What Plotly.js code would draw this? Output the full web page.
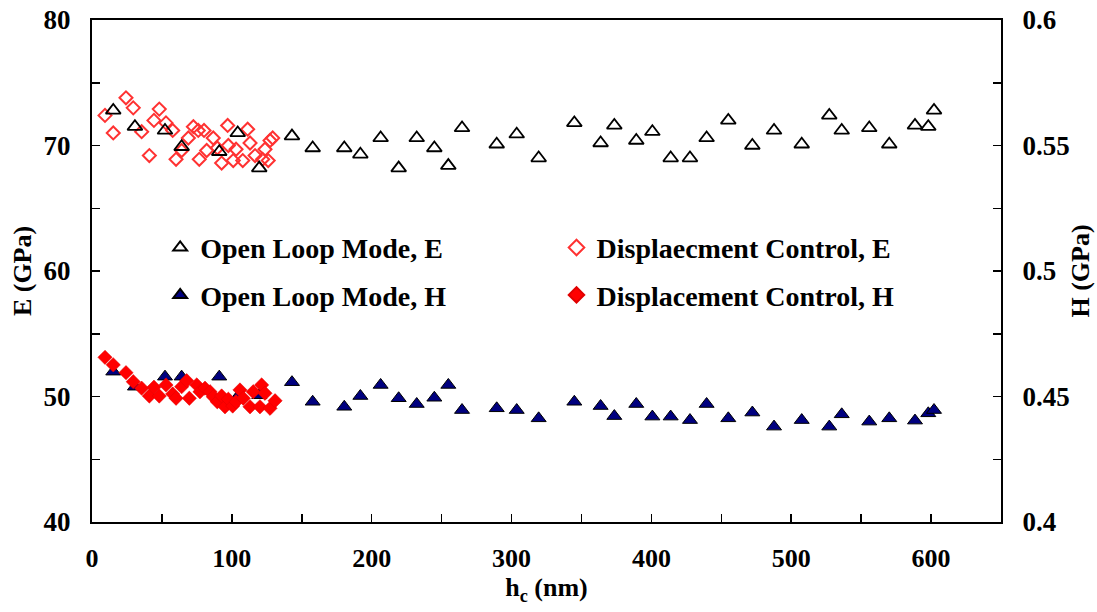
<!DOCTYPE html>
<html>
<head>
<meta charset="utf-8">
<script src="https://cdn.plot.ly/plotly-3.0.1.min.js"></script>
<style>html,body{margin:0;padding:0;background:#fff;}#chart{width:1097px;height:612px;}</style>
</head>
<body>
<div id="chart"></div>
<script>
// Open loop mode: depth (nm), E (GPa), H (GPa)
const olX = [15.2, 30.7, 52.2, 64.1, 91.0, 104.2, 119.6, 143.0, 157.8, 180.4, 191.9, 206.4, 219.3, 232.2, 244.8, 254.8, 264.6, 289.4, 303.7, 319.4, 344.9, 363.7, 373.5, 389.2, 400.7, 413.8, 427.6, 439.5, 455.0, 472.2, 487.7, 507.5, 527.2, 536.1, 555.8, 570.1, 588.5, 598.0, 602.1];
const olE = [72.8, 71.5, 71.2, 69.9, 69.5, 71.0, 68.2, 70.75, 69.8, 69.8, 69.3, 70.6, 68.2, 70.6, 69.8, 68.4, 71.4, 70.1, 70.9, 69.0, 71.8, 70.2, 71.6, 70.4, 71.1, 69.0, 69.0, 70.6, 72.0, 70.0, 71.2, 70.1, 72.4, 71.2, 71.4, 70.1, 71.6, 71.5, 72.8];
const olH = [0.4599, 0.4539, 0.4579, 0.4579, 0.4579, 0.4500, 0.4505, 0.4557, 0.4479, 0.4459, 0.4502, 0.4546, 0.4493, 0.4470, 0.4495, 0.4546, 0.4446, 0.4453, 0.4446, 0.4413, 0.4479, 0.4462, 0.4422, 0.4470, 0.4420, 0.4420, 0.4406, 0.4470, 0.4413, 0.4436, 0.4380, 0.4406, 0.4380, 0.4429, 0.4400, 0.4413, 0.4404, 0.4433, 0.4446];

// Displacement control: E
const dcEx = [9.3, 15.2, 24.3, 29.5, 35.5, 41.0, 44.3, 48.1, 52.9, 57.7, 60.1, 64.1, 68.9, 72.5, 76.0, 76.7, 80.1, 82.0, 86.7, 89.6, 92.7, 97.0, 97.5, 101.0, 103.0, 107.8, 111.3, 113.0, 116.6, 122.0, 123.7, 126.0, 127.3, 129.2];
const dcE = [72.4, 71.0, 73.8, 73.0, 71.1, 69.2, 72.0, 72.9, 71.8, 71.2, 68.9, 69.6, 70.6, 71.5, 71.2, 68.9, 71.2, 69.6, 70.6, 69.8, 68.6, 71.6, 70.0, 68.8, 69.7, 68.8, 71.3, 70.2, 69.2, 68.9, 69.7, 68.8, 70.4, 70.6];

// Displacement control: H
const dcHx = [9.3, 15.2, 24.3, 29.5, 35.5, 41.0, 44.3, 48.1, 52.9, 57.7, 60.1, 64.1, 67.7, 69.6, 74.9, 77.2, 80.8, 84.4, 86.7, 89.6, 92.7, 95.1, 97.5, 100.6, 103.0, 105.8, 108.2, 113.0, 115.3, 120.1, 121.3, 123.7, 127.3, 130.9];
const dcH = [0.4656, 0.4626, 0.4595, 0.4559, 0.4533, 0.4502, 0.4537, 0.4502, 0.4546, 0.4510, 0.4493, 0.4539, 0.4563, 0.4493, 0.4546, 0.4519, 0.4533, 0.4519, 0.4499, 0.4479, 0.4502, 0.4459, 0.4489, 0.4462, 0.4479, 0.4526, 0.4493, 0.4459, 0.4519, 0.4459, 0.4546, 0.4513, 0.4453, 0.4483];

const names = ['Open Loop Mode, E', 'Displaecment Control, E', 'Open Loop Mode, H', 'Displacement Control, H'];

const FONT = 'Liberation Serif, Times New Roman, serif';

const traces = [
  {x: dcEx, y: dcE, name: names[1], type: 'scatter', mode: 'markers', legend: 'legend2', legendgroup: 'b1', legendrank: 1,
   marker: {symbol: 'diamond-open', size: 10, color: 'rgb(255,50,50)', line: {width: 2, color: 'rgb(255,50,50)'}}},
  {x: olX, y: olE, name: names[0], type: 'scatter', mode: 'markers', legend: 'legend', legendgroup: 'a1', legendrank: 1,
   marker: {symbol: 'triangle-up-open', size: 13, color: '#000', line: {width: 1.8, color: '#000'}}},
  {x: olX, y: olH, name: names[2], type: 'scatter', mode: 'markers', yaxis: 'y2', legend: 'legend', legendgroup: 'a2', legendrank: 2,
   marker: {symbol: 'triangle-up', size: 13, color: '#00007f', line: {width: 1, color: '#000'}}},
  {x: dcHx, y: dcH, name: names[3], type: 'scatter', mode: 'markers', yaxis: 'y2', legend: 'legend2', legendgroup: 'b2', legendrank: 2,
   marker: {symbol: 'diamond', size: 11, color: '#ff0000', line: {width: 0.5, color: '#e00000'}}}
];

const legBase = {
  font: {family: FONT, size: 28, color: '#000', weight: 'bold'},
  bgcolor: 'rgba(0,0,0,0)', borderwidth: 0,
  traceorder: 'grouped', tracegroupgap: 8,
  itemsizing: 'constant', xanchor: 'left', yanchor: 'top'
};

const layout = {
  width: 1097, height: 612,
  margin: {l: 92, r: 96, t: 20, b: 90},
  paper_bgcolor: '#fff', plot_bgcolor: '#fff',
  font: {family: FONT, color: '#000'},
  showlegend: true,
  legend: Object.assign({}, legBase, {x: 0.075, y: 0.596}),
  legend2: Object.assign({}, legBase, {x: 0.511, y: 0.596}),
  xaxis: {
    range: [0, 650], dtick: 100, tick0: 0,
    ticks: 'inside', ticklen: 8, tickwidth: 1.5, tickcolor: '#000',
    minor: {dtick: 50, ticks: 'inside', ticklen: 8, tickwidth: 1.5, tickcolor: '#000'},
    showline: true, linecolor: '#000', linewidth: 2, mirror: true,
    showgrid: false, zeroline: false,
    ticklabelstandoff: 12,
    tickfont: {family: FONT, size: 26, color: '#000', weight: 'bold'},
    title: {text: 'h<sub>c</sub> (nm)', font: {family: FONT, size: 26, color: '#000', weight: 'bold'}, standoff: 0}
  },
  yaxis: {
    range: [40, 80], dtick: 10,
    ticks: 'inside', ticklen: 8, tickwidth: 1.5, tickcolor: '#000',
    minor: {dtick: 5, ticks: 'inside', ticklen: 8, tickwidth: 1.5, tickcolor: '#000'},
    showline: true, linecolor: '#000', linewidth: 2,
    showgrid: false, zeroline: false,
    ticklabelstandoff: 14,
    tickfont: {family: FONT, size: 27, color: '#000', weight: 'bold'},
    title: {text: 'E (GPa)', font: {family: FONT, size: 26, color: '#000', weight: 'bold'}, standoff: 4}
  },
  yaxis2: {
    range: [0.4, 0.6], dtick: 0.05, overlaying: 'y', side: 'right',
    ticks: 'inside', ticklen: 8, tickwidth: 1.5, tickcolor: '#000',
    minor: {dtick: 0.025, ticks: 'inside', ticklen: 8, tickwidth: 1.5, tickcolor: '#000'},
    showline: true, linecolor: '#000', linewidth: 2,
    showgrid: false, zeroline: false,
    ticklabelstandoff: 14,
    tickfont: {family: FONT, size: 27, color: '#000', weight: 'bold'},
    title: {text: 'H (GPa)', font: {family: FONT, size: 26, color: '#000', weight: 'bold'}, standoff: 2}
  }
};

Plotly.newPlot('chart', traces, layout, {displayModeBar: false, staticPlot: true});
</script>
</body>
</html>
